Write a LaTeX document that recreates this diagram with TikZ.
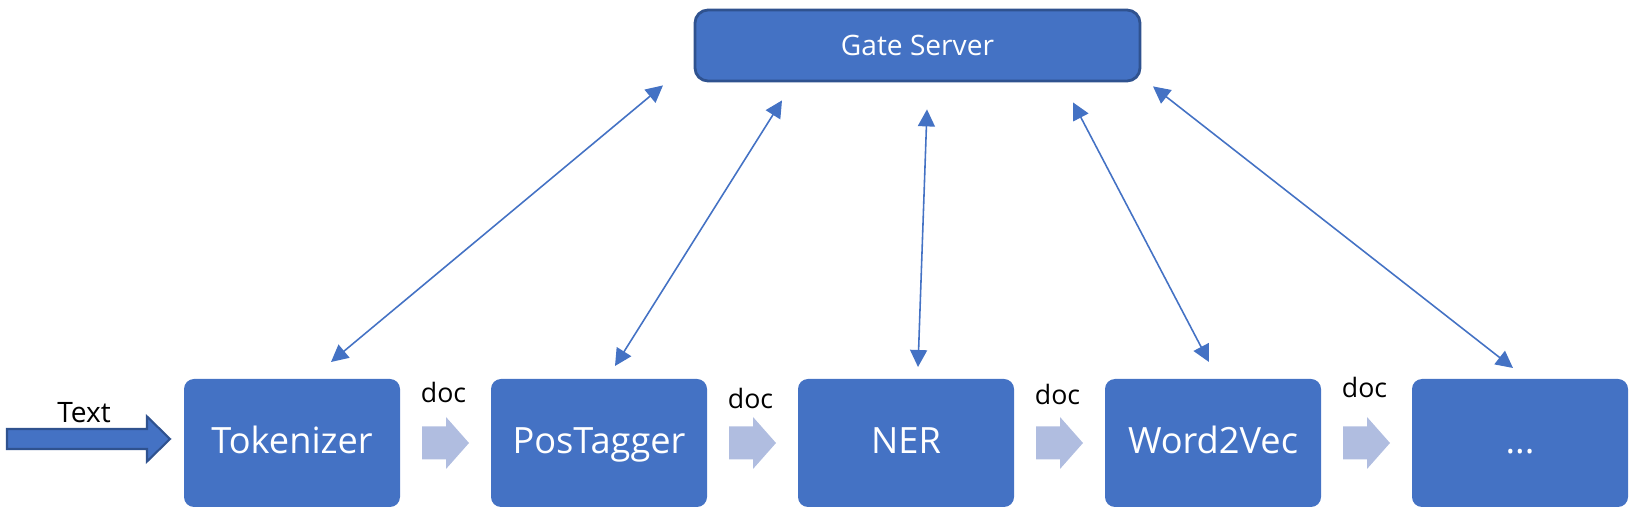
\documentclass[tikz,border=0pt]{standalone}
\usepackage{fontspec}
\setmainfont{Open Sans}
\usetikzlibrary{arrows.meta, positioning, calc}

\definecolor{boxblue}{HTML}{4472C4}
\definecolor{edgeblue}{HTML}{2F528F}
\definecolor{docblue}{RGB}{176,189,224}

\begin{document}
\begin{tikzpicture}
        % Styles for the pipeline
        \tikzset{
            stage/.style={fill=boxblue, rounded corners=0.1cm, minimum width=2.16cm, minimum height=1.28cm,
                outer sep=0pt, text=white, text height=7.6pt, text depth=1.9pt, font=\fontsize{10.3}{12}\selectfont},
            link/.style={boxblue, line width=0.45pt,
                {Triangle[length=1.7mm, width=1.7mm]}-{Triangle[length=1.7mm, width=1.7mm]}},
            doclabel/.style={font=\fontsize{7.6}{9}\selectfont}
        }
        \useasboundingbox (0,0) rectangle (16.33,5.11);

        % Gate Server
        \node[fill=boxblue, draw=edgeblue, line width=0.8pt, rounded corners=0.13cm, minimum width=4.45cm,
            minimum height=0.71cm, text=white, font=\fontsize{8}{10}\selectfont] (gate) at (9.175,4.655) {Gate Server};

        % Pipeline stages
        \node[stage] (tok) at (2.92,0.68) {Tokenizer};
        \node[stage, right=0.91cm of tok] (pos) {PosTagger};
        \node[stage, right=0.91cm of pos] (ner) {NER};
        \node[stage, right=0.91cm of ner] (w2v) {Word2Vec};
        \node[stage, right=0.91cm of w2v] (etc) {...};

        % Input arrow
        \coordinate (txtend) at ($(tok.west)+(-0.14,0.04)$);
        \filldraw[fill=boxblue, draw=edgeblue, line width=0.6pt] (txtend) -- ++(-0.23,0.225) -- ++(0,-0.125)
            -- ++(-1.40,0) -- ++(0,-0.20) -- ++(1.40,0) -- ++(0,-0.125) -- cycle;
        \node[doclabel, font=\fontsize{8}{10}\selectfont] (txt) at (0.84,0.98) {Text};

        % doc arrows between the stages
        \foreach \a/\b/\ly [count=\i] in {tok/pos/0.51, pos/ner/0.45, ner/w2v/0.49, w2v/etc/0.56} {
            \coordinate (m\i) at ($(\a.east)!0.5!(\b.west)$);
            \fill[docblue] ($(m\i)+(-0.235,-0.165)$) -- ++(0.24,0) -- ++(0,-0.095) -- ($(m\i)+(0.235,0)$)
                -- ($(m\i)+(0.005,0.26)$) -- ++(0,-0.095) -- ++(-0.24,0) -- cycle;
            \node[doclabel] (doc\i) at ($(m\i)+(-0.02,\ly)$) {doc};
        }

        % Links to the Gate Server
        \foreach \n/\gx/\gy/\bx/\by in {tok/-2.545/-0.03/0.39/0.17, pos/-1.355/-0.18/0.16/0.13,
                ner/0.095/-0.27/0.12/0.12, w2v/1.555/-0.20/-0.04/0.17, etc/2.355/-0.04/-0.07/0.11} {
            \draw[link] ($(gate.south)+(\gx,\gy)$) -- ($(\n.north)+(\bx,\by)$);
        }
\end{tikzpicture}
\end{document}
